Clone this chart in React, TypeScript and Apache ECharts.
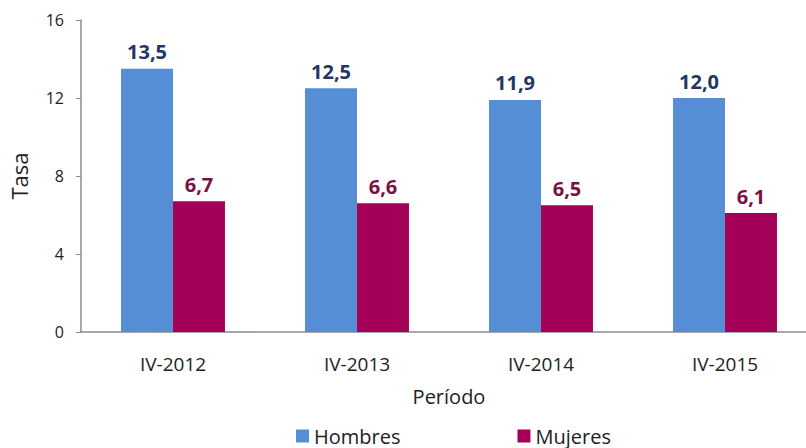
import React, { useEffect, useRef } from "react";
import * as echarts from "echarts";

const categories = ["IV-2012", "IV-2013", "IV-2014", "IV-2015"];
const hombres = [13.5, 12.5, 11.9, 12.0];
const mujeres = [6.7, 6.6, 6.5, 6.1];
const yTicks = [0, 4, 8, 12, 16];

const FONT = "'Open Sans', 'Noto Sans', sans-serif";
const fmt = (v: number) => v.toFixed(1).replace(".", ",");

export default function App() {
  const ref = useRef<HTMLDivElement>(null);
  useEffect(() => {
    if (!ref.current) return;
    const chart = echarts.init(ref.current, undefined, { renderer: "svg" });
    const label = (color: string) => ({
      show: true,
      position: "top",
      distance: 7,
      formatter: (p: any) => fmt(p.value),
      fontFamily: FONT,
      fontSize: 20,
      fontWeight: "bold",
      color,
    });
    chart.setOption({
      animation: false,
      backgroundColor: "#ffffff",
      grid: { left: 81, top: 20, width: 736, height: 312, containLabel: false },
      legend: {
        data: ["Hombres", "Mujeres"],
        top: 421,
        left: 291,
        itemGap: 117,
        itemWidth: 13,
        itemHeight: 13,
        icon: "rect",
        textStyle: { fontFamily: FONT, fontSize: 20, color: "#222" },
      },
      xAxis: {
        type: "category",
        data: categories,
        name: "Período",
        nameLocation: "middle",
        nameGap: 54,
        nameTextStyle: { fontFamily: FONT, fontSize: 20, color: "#222" },
        axisLine: { lineStyle: { color: "#8c8c8c", width: 1.5 } },
        axisTick: { show: false },
        axisLabel: { fontFamily: FONT, fontSize: 19, color: "#222", margin: 22 },
      },
      yAxis: {
        type: "value",
        min: yTicks[0],
        max: yTicks[yTicks.length - 1],
        interval: 4,
        name: "Tasa",
        nameLocation: "middle",
        nameGap: 51,
        nameTextStyle: { fontFamily: FONT, fontSize: 22, color: "#222" },
        axisLine: { show: true, lineStyle: { color: "#8c8c8c", width: 1.5 } },
        axisTick: { show: true, length: 5, lineStyle: { color: "#8c8c8c" } },
        splitLine: { show: false },
        axisLabel: { fontFamily: FONT, fontSize: 16, color: "#222", margin: 17 },
      },
      series: [
        {
          name: "Hombres",
          type: "bar",
          data: hombres,
          barGap: "0%",
          barCategoryGap: "43.5%",
          itemStyle: { color: "#558ED5" },
          label: label("#1F3864"),
        },
        {
          name: "Mujeres",
          type: "bar",
          data: mujeres,
          barGap: "0%",
          barCategoryGap: "43.5%",
          itemStyle: { color: "#A50057" },
          label: label("#7B1042"),
        },
      ],
    });
    return () => chart.dispose();
  }, []);
  return (
    <div
      style={{
        position: "fixed",
        left: 0,
        top: 0,
        width: 806,
        height: 448,
        overflow: "hidden",
        background: "#fff",
      }}
    >
      <div ref={ref} style={{ width: 830, height: 448 }} />
    </div>
  );
}
